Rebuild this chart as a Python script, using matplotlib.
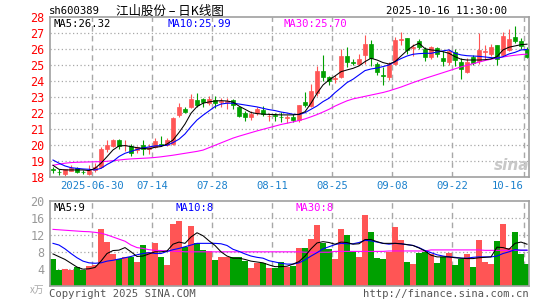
import matplotlib
matplotlib.use("Agg")
import matplotlib.pyplot as plt

# daily candles, 2025-06-19 .. 2025-10-16 (80 trading days)
opens = [18.50, 18.36, 18.21, 18.42, 18.58, 18.36, 18.21, 18.46, 18.67, 19.77,
         19.96, 20.33, 20.00, 19.95, 19.68, 20.04, 19.75, 19.92, 20.10, 20.02,
         20.06, 21.90, 22.30, 22.42, 22.85, 22.90, 22.62, 22.85, 22.72, 22.70,
         22.85, 22.38, 22.00, 21.75, 22.00, 22.22, 21.83, 21.88, 21.80, 21.73,
         21.75, 21.60, 22.72, 22.45, 23.25, 24.65, 24.25, 24.12, 24.29, 25.58,
         25.20, 25.10, 25.62, 26.32, 25.06, 24.40, 24.29, 25.08, 26.60, 26.70,
         26.10, 26.52, 26.04, 25.54, 26.06, 25.46, 25.20, 25.85, 25.22, 24.60,
         25.52, 25.24, 25.82, 25.72, 26.25, 25.65, 25.98, 26.78, 26.55, 26.00]
highs = [18.66, 18.50, 18.55, 18.79, 18.66, 18.45, 18.79, 18.87, 19.92, 20.33,
         20.40, 20.42, 20.35, 20.08, 19.98, 20.35, 20.08, 20.45, 20.60, 20.45,
         21.80, 22.65, 22.40, 23.20, 23.30, 22.95, 23.10, 23.10, 22.95, 22.98,
         22.88, 22.45, 22.12, 22.15, 22.40, 22.45, 22.00, 22.00, 22.10, 21.88,
         21.95, 22.55, 23.35, 23.85, 24.95, 25.62, 24.35, 24.38, 26.00, 26.12,
         25.40, 25.70, 26.92, 26.60, 25.20, 24.90, 25.20, 26.80, 27.08, 26.72,
         26.35, 26.65, 26.15, 26.20, 26.15, 25.88, 26.05, 26.05, 25.45, 25.48,
         25.65, 27.00, 26.30, 26.35, 26.30, 27.10, 27.30, 27.45, 26.70, 26.15]
lows = [18.25, 18.12, 18.10, 18.38, 18.25, 18.20, 18.12, 18.35, 18.60, 19.60,
        19.90, 19.75, 19.65, 19.35, 19.55, 19.40, 19.45, 19.85, 19.95, 19.95,
        20.00, 21.75, 22.05, 22.35, 22.40, 22.40, 22.55, 22.35, 22.40, 22.30,
        22.25, 21.80, 21.50, 21.60, 21.90, 21.85, 21.55, 21.50, 21.45, 21.38,
        21.45, 21.45, 22.40, 22.40, 23.10, 24.05, 23.80, 23.88, 24.20, 24.92,
        25.00, 25.00, 25.10, 24.95, 24.40, 23.80, 24.10, 25.00, 26.25, 25.70,
        25.60, 26.00, 25.25, 25.40, 25.50, 24.95, 25.05, 24.95, 24.15, 24.50,
        25.00, 25.10, 25.40, 25.60, 25.05, 25.60, 25.90, 26.40, 26.05, 25.48]
closes = [18.44, 18.33, 18.50, 18.58, 18.33, 18.31, 18.46, 18.67, 19.77, 20.04,
          20.33, 19.98, 20.02, 19.55, 19.88, 19.75, 19.90, 20.25, 20.04, 20.35,
          21.70, 22.42, 22.10, 22.92, 22.54, 22.68, 22.90, 22.62, 22.75, 22.78,
          22.52, 21.85, 21.80, 21.98, 22.28, 21.98, 21.85, 21.83, 21.78, 21.75,
          21.60, 22.50, 22.52, 23.42, 24.65, 24.30, 24.05, 24.20, 25.60, 25.18,
          25.15, 25.42, 26.36, 25.46, 24.56, 24.33, 25.06, 26.58, 26.65, 25.96,
          26.15, 26.12, 25.54, 26.17, 25.70, 25.28, 25.90, 25.33, 24.78, 25.22,
          25.15, 25.95, 25.88, 26.12, 25.42, 26.84, 26.62, 26.52, 26.22, 25.55]

ma5 = [18.75, 18.50, 18.46, 18.46, 18.46, 18.46, 18.42, 18.56, 18.88, 19.29,
       19.71, 19.96, 19.98, 19.92, 19.85, 19.81, 19.77, 19.88, 19.92, 20.08,
       20.33, 20.80, 21.33, 22.00, 22.42, 22.63, 22.71, 22.77, 22.79, 22.77,
       22.70, 22.45, 22.25, 22.05, 21.98, 21.95, 21.93, 21.92, 21.90, 21.90,
       21.90, 21.94, 22.10, 22.63, 23.25, 23.77, 24.08, 24.33, 24.60, 24.71,
       24.81, 24.96, 25.23, 25.44, 25.33, 25.17, 25.08, 25.23, 25.58, 25.92,
       26.21, 26.38, 26.04, 25.96, 25.92, 25.85, 25.75, 25.54, 25.38, 25.33,
       25.33, 25.33, 25.35, 25.40, 25.54, 25.96, 26.13, 26.21, 26.29, 26.32]
ma10 = [19.08, 18.88, 18.71, 18.60, 18.56, 18.52, 18.50, 18.46, 18.56, 18.80,
        19.00, 19.30, 19.50, 19.62, 19.74, 19.83, 19.90, 19.96, 19.98, 20.00,
        20.17, 20.38, 20.71, 21.17, 21.58, 21.88, 22.15, 22.42, 22.58, 22.63,
        22.63, 22.58, 22.52, 22.46, 22.40, 22.31, 22.23, 22.17, 22.08, 22.02,
        21.94, 21.92, 22.04, 22.25, 22.46, 22.73, 22.94, 23.29, 23.60, 23.92,
        24.13, 24.40, 24.67, 24.77, 24.83, 24.92, 25.02, 25.23, 25.42, 25.58,
        25.69, 25.73, 25.75, 25.75, 25.83, 25.90, 25.96, 25.75, 25.65, 25.60,
        25.58, 25.56, 25.52, 25.48, 25.44, 25.54, 25.71, 25.81, 25.96, 25.99]
ma30 = [18.75, 18.82, 18.88, 18.92, 18.94, 18.95, 18.96, 18.97, 18.98, 19.00,
        19.04, 19.08, 19.12, 19.15, 19.17, 19.19, 19.21, 19.24, 19.28, 19.33,
        19.38, 19.44, 19.50, 19.56, 19.62, 19.70, 19.85, 20.00, 20.15, 20.30,
        20.45, 20.57, 20.68, 20.79, 20.90, 21.00, 21.10, 21.20, 21.30, 21.38,
        21.46, 21.55, 21.65, 21.78, 21.92, 22.08, 22.25, 22.45, 22.62, 22.78,
        22.90, 22.98, 23.06, 23.14, 23.22, 23.30, 23.40, 23.52, 23.64, 23.78,
        23.92, 24.05, 24.18, 24.30, 24.42, 24.54, 24.66, 24.78, 24.90, 25.00,
        25.10, 25.20, 25.30, 25.38, 25.45, 25.52, 25.58, 25.63, 25.67, 25.70]

volumes = [6.3, 3.7, 4.0, 3.8, 4.3, 3.8, 4.6, 5.0, 13.4, 10.3,
           7.5, 6.2, 6.8, 6.8, 5.7, 9.6, 8.0, 10.1, 6.8, 5.0,
           14.6, 15.3, 9.2, 14.1, 10.2, 8.4, 8.2, 6.1, 6.8, 6.7,
           6.7, 6.8, 5.8, 4.1, 5.3, 5.4, 4.1, 4.2, 5.6, 4.5,
           4.6, 8.9, 8.9, 11.0, 14.4, 10.1, 8.6, 6.3, 13.3, 12.0,
           8.1, 6.8, 16.6, 12.6, 6.5, 6.3, 7.9, 13.9, 10.7, 5.6,
           5.1, 7.8, 8.0, 7.4, 5.3, 6.8, 7.8, 4.9, 6.4, 7.5,
           4.4, 10.7, 5.6, 5.2, 10.5, 14.5, 8.8, 12.6, 7.4, 5.1]
vol_ma5 = [7.5, 6.85, 6.2, 5.3, 4.4, 3.9, 4.0, 4.3, 5.8, 7.6,
           8.3, 8.4, 9.0, 8.0, 6.9, 7.0, 7.5, 8.0, 8.0, 8.2,
           9.8, 10.3, 10.0, 11.5, 12.5, 11.8, 10.6, 9.5, 8.0, 7.0,
           6.5, 6.5, 6.2, 5.8, 5.6, 5.4, 4.9, 4.5, 4.5, 4.6,
           5.1, 5.7, 7.0, 8.7, 10.1, 10.4, 10.2, 9.8, 10.3, 10.2,
           9.8, 9.9, 10.9, 10.9, 10.4, 10.0, 10.0, 10.0, 9.9, 9.7,
           9.5, 8.9, 8.2, 7.2, 6.8, 6.8, 6.8, 6.6, 6.5, 6.4,
           6.4, 6.6, 6.7, 6.8, 9.1, 9.0, 8.6, 10.0, 10.3, 9.8]
vol_ma10 = [10.0, 9.6, 8.7, 7.6, 6.6, 5.8, 5.4, 5.3, 5.4, 5.8,
            6.0, 6.3, 6.6, 6.9, 7.3, 7.6, 7.8, 7.6, 7.6, 8.1,
            8.5, 8.8, 9.2, 9.6, 10.0, 10.0, 10.0, 10.0, 9.9, 9.5,
            8.6, 8.1, 7.5, 7.0, 6.7, 6.5, 5.9, 5.6, 5.3, 5.1,
            5.1, 5.4, 6.1, 7.0, 7.8, 8.7, 9.2, 9.7, 10.0, 9.9,
            9.9, 10.2, 10.7, 10.6, 10.3, 10.0, 9.8, 10.0, 9.9, 9.7,
            9.5, 9.0, 8.3, 7.8, 7.3, 7.0, 6.8, 6.7, 6.5, 6.5,
            6.7, 6.8, 6.8, 6.8, 7.0, 7.6, 8.0, 8.5, 8.4, 8.4]
vol_ma30 = [13.3, 13.2, 13.1, 13.0, 12.9, 12.8, 12.75, 12.6, 12.4, 12.0,
            11.5, 11.0, 10.5, 9.6, 9.0, 8.8, 8.5, 8.35, 8.3, 8.2,
            8.15, 8.1, 8.0, 8.0, 8.0, 8.0, 8.0, 8.0, 8.0, 8.0,
            8.0, 8.0, 8.0, 8.0, 8.0, 8.0, 8.0, 8.0, 8.0, 8.0,
            8.0, 8.0, 7.9, 7.9, 7.9, 7.9, 7.9, 8.1, 8.1, 8.1,
            8.1, 8.1, 8.1, 8.1, 8.1, 8.1, 8.2, 8.2, 8.2, 8.2,
            8.2, 8.2, 8.2, 8.45, 8.45, 8.45, 8.45, 8.45, 8.45, 8.45,
            8.45, 8.45, 8.35, 8.35, 8.35, 8.35, 8.35, 8.35, 8.35, 8.35]

tick_pos = [7, 17, 27, 37, 47, 57, 67, 79]
tick_labels = ["2025-06-30", "07-14", "07-28", "08-11", "08-25", "09-08", "09-22", "10-16"]
price_ticks = [18, 19, 20, 21, 22, 23, 24, 25, 26, 27, 28]
vol_ticks = [4, 8, 12, 16, 20]

RED = "#ff5555"
GREEN = "#00a000"
GRID = "#a8a8a8"
FRAME = "#a0a0a0"
MONO = "DejaVu Sans Mono"

W, H = 545, 300
fig = plt.figure(figsize=(W / 100, H / 100), dpi=100)


def fx(x):
    return x / W


def fy(y):
    return 1 - y / H


ax = fig.add_axes([fx(50), fy(177.3), 479 / W, 160 / H])
axv = fig.add_axes([fx(50), fy(285.7), 479 / W, 84.7 / H])

n = len(closes)
xs = list(range(n))
colors = [RED if c >= o else GREEN for o, c in zip(opens, closes)]

# price panel
for lv in price_ticks[1:-1]:
    ax.axhline(lv, color=GRID, lw=0.9, ls=(0, (1, 2)), zorder=0)
for p in tick_pos:
    ax.axvline(p - 0.5, color=GRID, lw=1.0, ls=(0, (4, 3)), zorder=0)

ax.vlines(xs, lows, highs, colors=colors, lw=0.8, zorder=2)
bottoms = [min(o, c) for o, c in zip(opens, closes)]
heights = [max(abs(c - o), 0.02) for o, c in zip(opens, closes)]
ax.bar(xs, heights, bottom=bottoms, width=0.72, color=colors, edgecolor=colors,
       lw=0.5, zorder=3)

ax.plot(xs, ma30, color="#ff00ff", lw=0.8, zorder=4)
ax.plot(xs, ma10, color="#0000ff", lw=0.8, zorder=4)
ax.plot(xs, ma5, color="black", lw=0.75, zorder=4)

ax.set_xlim(-0.5, 79.33)
ax.set_ylim(18, 28)
ax.set_xticks(tick_pos)
ax.set_xticklabels([])
ax.set_yticks(price_ticks)
ax.set_yticklabels([str(t) for t in price_ticks], color="red", fontsize=8.5,
                   family=MONO)
ax.tick_params(length=0, pad=4)
for s in ax.spines.values():
    s.set_color(FRAME)
    s.set_linewidth(1.2)

# last label is pulled inside the frame, as on the original
label_x = [50 + 6 * p for p in tick_pos]
label_x[-1] = 508
for lx, lab in zip(label_x, tick_labels):
    fig.text(fx(lx), fy(186), lab, color="#1a80cc", fontsize=7.6,
             family=MONO, ha="center", va="center")

# volume panel
for lv in vol_ticks[:-1]:
    axv.axhline(lv, color=GRID, lw=0.9, ls=(0, (1, 2)), zorder=0)
for p in tick_pos:
    axv.axvline(p - 0.5, color=GRID, lw=1.0, ls=(0, (4, 3)), zorder=0)
axv.bar(xs, volumes, width=0.84, color=colors, lw=0, zorder=2)
axv.plot(xs, vol_ma30, color="#ff00ff", lw=0.8, zorder=4)
axv.plot(xs, vol_ma10, color="#0000ff", lw=0.8, zorder=4)
axv.plot(xs, vol_ma5, color="black", lw=0.75, zorder=4)
axv.set_xlim(-0.5, 79.33)
axv.set_ylim(0, 20)
axv.set_xticks([])
axv.set_yticks(vol_ticks)
axv.set_yticklabels([str(t) for t in vol_ticks], color="#999999", fontsize=8.5,
                    family=MONO)
axv.tick_params(length=0, pad=4)
for s in axv.spines.values():
    s.set_color(FRAME)
    s.set_linewidth(1.2)

# header and legends
fig.text(fx(49), fy(11), "sh600389", fontsize=7.6, family=MONO, va="center")
fig.text(fx(116), fy(11), "江山股份 – 日K线图", fontsize=9,
         family=["Noto Sans CJK SC", "DejaVu Sans"], va="center")
fig.text(fx(507), fy(11), "2025-10-16 11:30:00", fontsize=7.6, family=MONO,
         va="center", ha="right")

fig.text(fx(54), fy(24), "MA5:26.32", fontsize=7.6, family=MONO, va="center")
fig.text(fx(168), fy(24), "MA10:25.99", fontsize=7.6, family=MONO, va="center",
         color="#0000ff")
fig.text(fx(283), fy(24), "MA30:25.70", fontsize=7.6, family=MONO, va="center",
         color="#ff00ff")

fig.text(fx(54), fy(208), "MA5:9", fontsize=7.6, family=MONO, va="center")
fig.text(fx(175), fy(208), "MA10:8", fontsize=7.6, family=MONO, va="center",
         color="#0000ff")
fig.text(fx(295), fy(208), "MA30:8", fontsize=7.6, family=MONO, va="center",
         color="#ff00ff")

fig.text(fx(44), fy(290), "x万", fontsize=7, color="#aaaaaa",
         family=["Noto Sans CJK SC", "DejaVu Sans"], va="center", ha="right")

fig.text(fx(49), fy(294), "Copyright 2025 SINA.COM", fontsize=7.6, family=MONO,
         va="center", color="#555555")
fig.text(fx(529), fy(294), "http://finance.sina.com.cn", fontsize=7.6,
         family=MONO, va="center", ha="right", color="#555555")

# watermark
fig.text(fx(512), fy(166), "sina", fontsize=11, color="#c8c8c8",
         fontweight="bold", style="italic", ha="center", va="center")

fig.savefig("out.png", dpi=100)
